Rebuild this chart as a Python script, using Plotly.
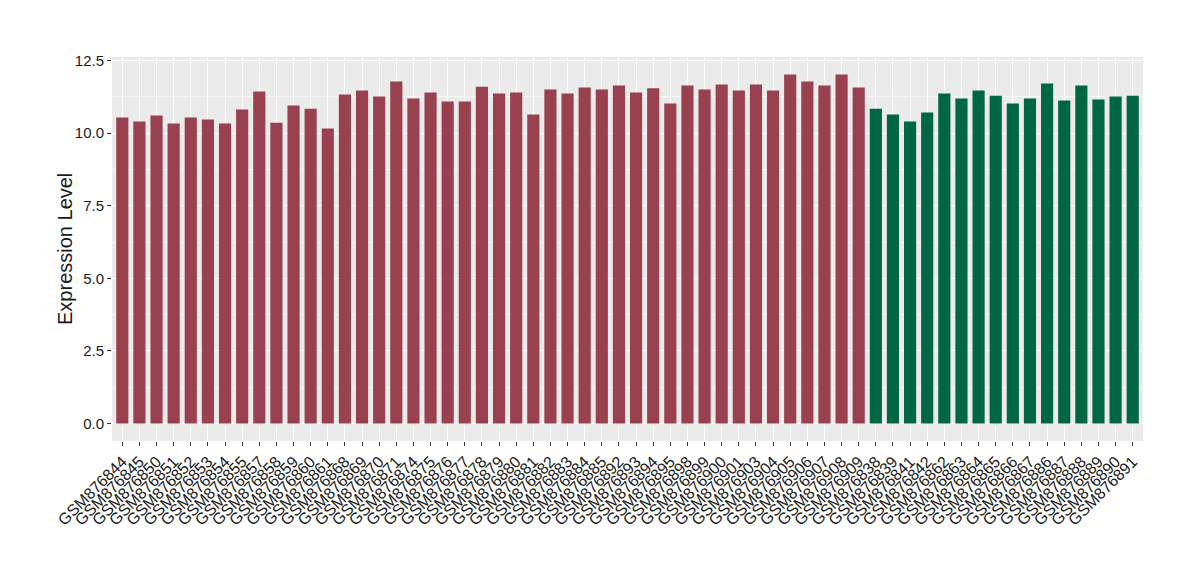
import plotly.graph_objects as go

red_samples = ["GSM876844", "GSM876845", "GSM876850", "GSM876851", "GSM876852", "GSM876853",
               "GSM876854", "GSM876855", "GSM876857", "GSM876858", "GSM876859", "GSM876860",
               "GSM876861", "GSM876868", "GSM876869", "GSM876870", "GSM876871", "GSM876874",
               "GSM876875", "GSM876876", "GSM876877", "GSM876878", "GSM876879", "GSM876880",
               "GSM876881", "GSM876882", "GSM876883", "GSM876884", "GSM876885", "GSM876892",
               "GSM876893", "GSM876894", "GSM876895", "GSM876898", "GSM876899", "GSM876900",
               "GSM876901", "GSM876903", "GSM876904", "GSM876905", "GSM876906", "GSM876907",
               "GSM876908", "GSM876909"]
red_values = [10.54, 10.40, 10.61, 10.33, 10.54, 10.47, 10.33, 10.81, 11.43, 10.36, 10.95, 10.84,
              10.16, 11.33, 11.47, 11.26, 11.78, 11.19, 11.40, 11.09, 11.09, 11.60, 11.36, 11.40,
              10.64, 11.50, 11.36, 11.57, 11.50, 11.64, 11.40, 11.54, 11.02, 11.64, 11.50, 11.67,
              11.47, 11.67, 11.47, 12.02, 11.78, 11.64, 12.02, 11.57]

green_samples = ["GSM876838", "GSM876839", "GSM876841", "GSM876842", "GSM876862", "GSM876863",
                 "GSM876864", "GSM876865", "GSM876866", "GSM876867", "GSM876886", "GSM876887",
                 "GSM876888", "GSM876889", "GSM876890", "GSM876891"]
green_values = [10.84, 10.64, 10.40, 10.71, 11.36, 11.19, 11.47, 11.29, 11.02, 11.19, 11.71, 11.12,
                11.64, 11.16, 11.26, 11.29]

y_ticks = [0.0, 2.5, 5.0, 7.5, 10.0, 12.5]
y_tick_labels = ["0.0", "2.5", "5.0", "7.5", "10.0", "12.5"]

RED = "#9A4150"
GREEN = "#006644"

all_samples = red_samples + green_samples

fig = go.Figure()
fig.add_trace(go.Bar(x=red_samples, y=red_values, marker=dict(color=RED, line=dict(width=0)),
                     showlegend=False))
fig.add_trace(go.Bar(x=green_samples, y=green_values, marker=dict(color=GREEN, line=dict(width=0)),
                     showlegend=False))

fig.update_layout(
    width=1200, height=580,
    margin=dict(l=104, r=65, t=49, b=147, autoexpand=False),
    paper_bgcolor="white",
    plot_bgcolor="#EBEBEB",
    bargap=0.29,
    font=dict(family="Liberation Sans, Arial, sans-serif", color="#1a1a1a"),
    xaxis=dict(
        categoryorder="array", categoryarray=all_samples,
        tickmode="array", tickvals=all_samples, ticktext=all_samples,
        tickangle=-45, tickfont=dict(size=16, color="#1a1a1a"),
        ticks="outside", ticklen=4, tickcolor="#333333", automargin=False,
        showgrid=True, gridcolor="white", gridwidth=1.2,
        range=[-0.6, 59.6], zeroline=False,
    ),
    yaxis=dict(
        range=[-0.6, 12.62], automargin=False,
        tickvals=y_ticks, ticktext=y_tick_labels,
        tickfont=dict(size=15, color="#1a1a1a"),
        ticks="outside", ticklen=4, tickcolor="#333333",
        showgrid=True, gridcolor="white", gridwidth=1.2,
        zeroline=False,
        minor=dict(tick0=0, dtick=1.25, showgrid=True, gridcolor="#F7F7F7", gridwidth=0.6),
    ),
    annotations=[dict(
        text="Expression Level", textangle=-90,
        xref="paper", yref="paper", x=-0.0456, y=0.5,
        xanchor="center", yanchor="middle", showarrow=False,
        font=dict(size=20, color="#1a1a1a"),
    )],
)

fig.write_html("out.html")
